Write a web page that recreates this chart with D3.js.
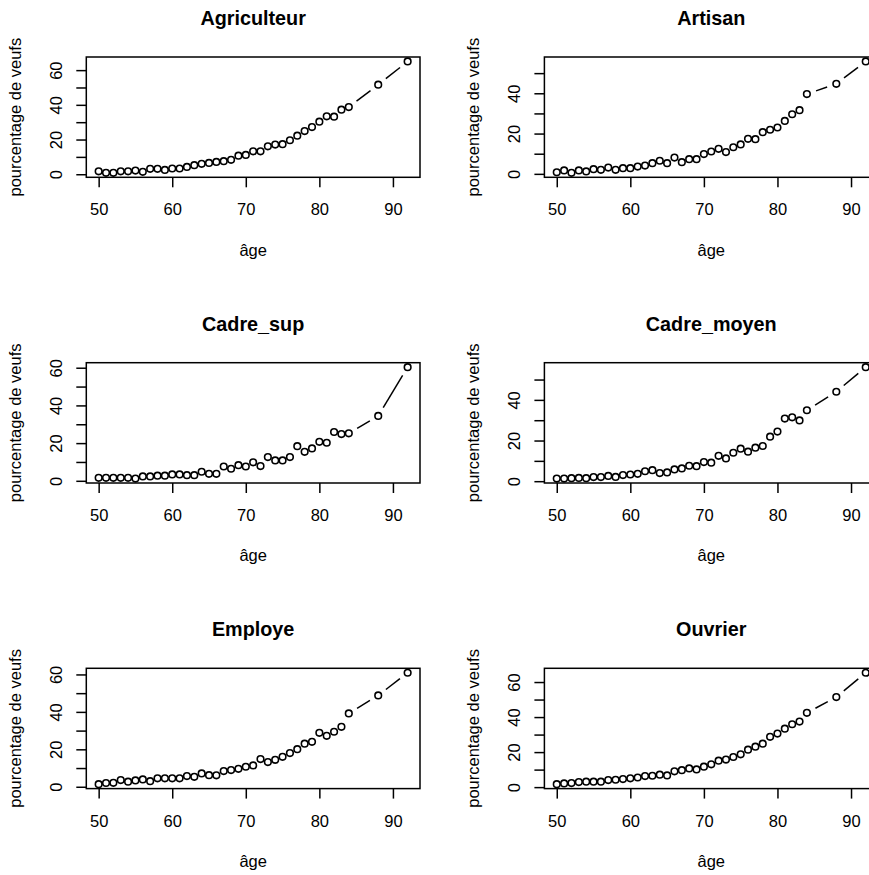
<!DOCTYPE html>
<html><head><meta charset="utf-8">
<script src="https://cdn.jsdelivr.net/npm/d3@7"></script>
<style>
body{margin:0;background:#fff}
svg{display:block}
text{font-family:"Liberation Sans",Arial,Helvetica,sans-serif;fill:#000}
</style>
</head><body>
<svg id="chart" width="869" height="875"></svg>
<script>
// ---- data ----
const ages = [50,51,52,53,54,55,56,57,58,59,60,61,62,63,64,65,66,67,68,69,70,71,72,73,74,75,76,77,78,79,80,81,82,83,84,88,92];
const categories = ["Agriculteur","Artisan","Cadre_sup","Cadre_moyen","Employe","Ouvrier"];
const agriculteur = [1.7,0.8,0.8,1.7,1.7,2.1,1.4,3.1,3.1,2.5,3.3,3.3,4.2,5.2,6.0,6.5,7.1,7.5,8.3,10.7,11.1,13.2,13.2,16.1,17.1,17.3,19.6,22.2,24.9,27.2,30.3,33.4,33.2,37.2,38.7,51.6,65.0];
const artisan = [0.8,1.7,0.5,1.7,1.2,2.3,2.0,3.1,2.0,2.8,2.8,3.6,4.1,5.3,6.5,5.3,8.1,5.8,7.3,7.3,9.8,11.1,12.4,10.8,13.2,14.6,17.4,17.2,20.7,21.9,23.0,26.3,29.6,31.6,39.6,44.7,55.8];
const cadreSup = [1.6,1.6,1.6,1.6,1.6,1.2,2.3,2.3,2.7,2.7,3.4,3.4,3.0,3.0,4.8,3.7,3.7,7.6,6.4,8.3,7.6,9.8,7.8,12.6,10.8,10.8,12.6,18.4,15.4,17.2,20.7,20.2,25.9,24.8,25.2,34.4,60.3];
const cadreMoyen = [1.3,1.3,1.5,1.6,1.5,2.0,2.0,2.6,2.1,3.0,3.3,3.6,4.9,5.4,4.0,4.3,5.8,6.3,7.6,7.4,9.4,9.1,12.5,11.2,14.0,16.0,14.5,16.5,17.3,21.9,24.4,30.8,31.4,29.9,34.9,44.0,56.1];
const employe = [1.4,2.0,2.1,3.6,2.7,3.4,3.9,3.0,4.5,4.5,4.5,4.5,5.7,5.3,7.1,6.2,6.1,8.4,8.9,9.6,10.7,11.4,14.8,13.2,14.4,16.0,18.0,20.1,23.0,24.0,28.8,27.2,29.4,32.0,39.2,48.8,60.9];
const ouvrier = [1.7,2.1,2.3,2.9,3.1,3.1,3.1,4.0,4.2,4.6,5.0,5.5,6.3,6.5,7.1,6.7,9.0,9.7,10.7,10.1,11.7,13.0,15.1,15.7,17.2,18.7,21.4,23.1,24.8,28.7,30.6,33.4,35.9,37.4,42.4,51.4,65.3];
const xTicks = [50,60,70,80,90];
const yTicks = [0,10,20,30,40,50,60];
const yTickLabels = [0,20,40,60];
const xLabel = "âge";
const yLabel = "pourcentage de veufs";

const seriesList = [agriculteur, artisan, cadreSup, cadreMoyen, employe, ouvrier];

// ---- layout ----
const svg = d3.select("#chart");
const colX = [86.3, 544.4];
const rowY = [57, 362.7, 668.3];
const boxW = 333.7, boxH = 120.3;
const fs = 16.5;

function padExtent(ext) {
  const d = (ext[1] - ext[0]) * 0.04;
  return [ext[0] - d, ext[1] + d];
}

categories.forEach((cat, i) => {
  const vals = seriesList[i];
  const x0 = colX[i % 2], y0 = rowY[Math.floor(i / 2)];
  const x = d3.scaleLinear().domain(padExtent(d3.extent(ages))).range([x0, x0 + boxW]);
  const y = d3.scaleLinear().domain(padExtent(d3.extent(vals))).range([y0 + boxH, y0]);
  const g = svg.append("g");

  // x axis
  const ax = g.append("g").attr("transform", `translate(0,${y0 + boxH})`)
    .call(d3.axisBottom(x).tickValues(xTicks).tickSize(10).tickSizeOuter(0));
  ax.select(".domain").remove();
  ax.selectAll("line").attr("stroke", "#000").attr("stroke-width", 1.5);
  ax.selectAll("text").attr("y", 38).attr("dy", 0).attr("font-size", fs)
    .style("font-family", '"Liberation Sans",Arial,sans-serif').attr("fill", "#000");

  // y axis
  const yt = yTicks.filter(v => v >= y.domain()[0] && v <= y.domain()[1]);
  const ay = g.append("g").attr("transform", `translate(${x0},0)`)
    .call(d3.axisLeft(y).tickValues(yt).tickSize(10).tickSizeOuter(0)
      .tickFormat(v => yTickLabels.includes(v) ? String(v) : ""));
  ay.select(".domain").remove();
  ay.selectAll("line").attr("stroke", "#000").attr("stroke-width", 1.5);
  ay.selectAll("text").attr("x", null).attr("dy", 0).attr("text-anchor", "middle")
    .attr("transform", "translate(-24.3,0) rotate(-90)").attr("font-size", fs)
    .style("font-family", '"Liberation Sans",Arial,sans-serif').attr("fill", "#000");

  // box
  g.append("rect").attr("x", x0).attr("y", y0).attr("width", boxW).attr("height", boxH)
    .attr("fill", "none").attr("stroke", "#000").attr("stroke-width", 1.5);

  // labels
  g.append("text").attr("x", x0 + boxW / 2).attr("y", y0 + boxH + 78.4)
    .attr("text-anchor", "middle").attr("font-size", fs).text(xLabel);
  g.append("text").attr("transform", `translate(${x0 - 65.8},${y0 + boxH / 2}) rotate(-90)`)
    .attr("text-anchor", "middle").attr("font-size", fs).text(yLabel);
  g.append("text").attr("x", x0 + boxW / 2).attr("y", y0 - 32)
    .attr("text-anchor", "middle").attr("font-size", 19.8).attr("font-weight", "bold").text(cat);

  // type "b": segments with gaps, then points
  const pts = ages.map((a, k) => [x(a), y(vals[k])]);
  const gap = 9.7;
  const segs = [];
  for (let k = 0; k < pts.length - 1; k++) {
    const [ax1, ay1] = pts[k], [bx, by] = pts[k + 1];
    const dx = bx - ax1, dy = by - ay1, d = Math.hypot(dx, dy);
    if (d > 2 * gap) {
      const ux = dx / d, uy = dy / d;
      segs.push([ax1 + ux * gap, ay1 + uy * gap, bx - ux * gap, by - uy * gap]);
    }
  }
  g.selectAll("line.seg").data(segs).enter().append("line").attr("class", "seg")
    .attr("x1", s => s[0]).attr("y1", s => s[1]).attr("x2", s => s[2]).attr("y2", s => s[3])
    .attr("stroke", "#000").attr("stroke-width", 1.5);
  g.selectAll("circle").data(ages).enter().append("circle")
    .attr("cx", a => x(a)).attr("cy", (a, k) => y(vals[k])).attr("r", 3.3)
    .attr("fill", "none").attr("stroke", "#000").attr("stroke-width", 1.6);
});
</script>
</body></html>
